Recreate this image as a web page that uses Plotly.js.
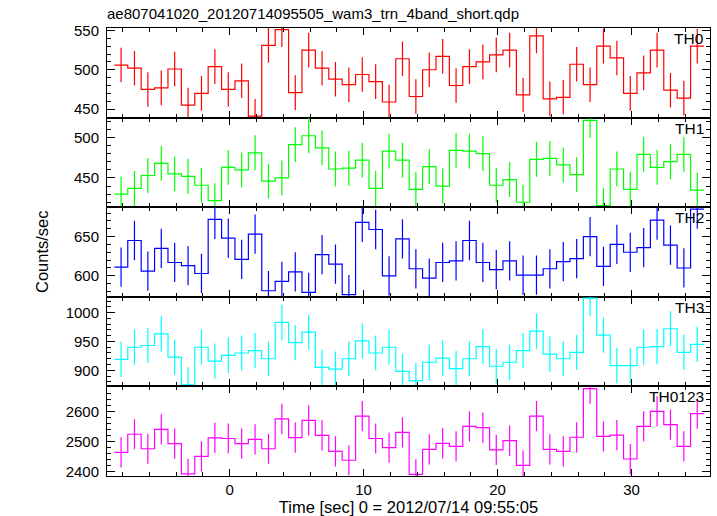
<!DOCTYPE html>
<html>
<head>
<meta charset="utf-8">
<script src="https://cdn.plot.ly/plotly-3.0.1.min.js"></script>
<style>html,body{margin:0;padding:0;background:#fff;}#chart{width:717px;height:516px;}</style>
</head>
<body>
<div id="chart"></div>
<script>
// bin centres [sec], 1 s bins
const timeSec = [-8.1,-7.1,-6.1,-5.1,-4.1,-3.1,-2.1,-1.1,-0.1,0.9,1.9,2.9,3.9,4.9,5.9,6.9,7.9,8.9,9.9,10.9,11.9,12.9,
  13.9,14.9,15.9,16.9,17.9,18.9,19.9,20.9,21.9,22.9,23.9,24.9,25.9,26.9,27.9,28.9,29.9,30.9,31.9,32.9,33.9,34.9];
const binWidth = 1;

const th0 = [506,502,475,477,501,455,470,504,475,486,441,531,551,471,525,502,488,481,494,485,459,514,
  466,500,517,480,504,510,519,525,468,543,463,465,507,481,530,515,470,496,525,474,464,530];
const th1 = [430,437,453,468,455,452,441,422,463,460,481,446,450,491,502,487,461,462,472,437,483,472,
  436,464,440,484,483,480,441,448,420,473,474,466,454,521,416,461,436,479,463,470,479,435];
const th2 = [611,645,606,635,617,613,603,672,648,621,653,581,593,605,579,627,615,576,668,659,600,647,
  609,597,617,619,645,617,608,619,601,601,609,618,622,650,612,640,630,636,671,639,610,685];
const th3 = [919,940,943,963,923,875,940,916,926,930,934,920,983,948,966,905,902,920,951,930,940,898,
  882,914,921,903,920,941,907,914,934,968,928,920,931,1025,961,908,908,940,941,972,931,945];
const th0123 = [2464,2524,2476,2540,2493,2393,2451,2512,2510,2493,2507,2476,2575,2513,2570,2520,2467,2438,2584,2510,2480,2530,
  2391,2474,2494,2484,2550,2546,2472,2503,2421,2584,2474,2467,2514,2675,2517,2521,2442,2550,2600,2556,2484,2592];

const panelNames = ['TH0','TH1','TH2','TH3','TH0123'];
const panelSeries = [th0, th1, th2, th3, th0123];
const panelErr = [22, 21.5, 25, 30.5, 50];
const panelColors = ['#ff0000','#00ff00','#0000ff','#00ffff','#ff00ff'];
const yRanges = [[439.2,553.1],[413.9,524.4],[573.3,687.4],[872.1,1027.4],[2385.8,2682.4]];
const yMajor = [50,50,50,50,100];
const yMinor = [10,10,10,10,20];
const xRange = [-9.15, 35.85];
const xTickVals = [0,10,20,30];
const xTickText = ['0','10','20','30'];

const titleText = 'ae807041020_20120714095505_wam3_trn_4band_short.qdp';
const xTitle = 'Time [sec] 0 = 2012/07/14 09:55:05';
const yTitle = 'Counts/sec';

const FONT = 'Liberation Sans, Arial, Helvetica, sans-serif';
const traces = [];
const layout = {
  width: 717, height: 516,
  margin: {l: 107, r: 7, t: 28, b: 40},
  paper_bgcolor: '#fff', plot_bgcolor: '#fff',
  showlegend: false, hovermode: false,
  font: {family: FONT, size: 15, color: '#000'},
  title: {text: titleText, x: 0, xref: 'paper', xanchor: 'left', y: 1 - 14/516, yref: 'container', yanchor: 'middle',
          font: {family: FONT, size: 15, color: '#000'}},
  annotations: []
};

const n = panelSeries.length;
for (let p = 0; p < n; p++) {
  const sfx = p === 0 ? '' : String(p + 1);
  const vals = panelSeries[p];
  // step outline from bin edges
  const sx = timeSec.map(c => c - binWidth / 2);
  sx.push(timeSec[timeSec.length - 1] + binWidth / 2);
  const sy = vals.slice();
  sy.push(vals[vals.length - 1]);
  traces.push({
    type: 'scatter', mode: 'lines', x: sx, y: sy,
    xaxis: 'x' + sfx, yaxis: 'y' + sfx,
    line: {shape: 'hv', color: panelColors[p], width: 1.2}
  });
  traces.push({
    type: 'scatter', mode: 'markers', x: timeSec, y: vals,
    xaxis: 'x' + sfx, yaxis: 'y' + sfx,
    marker: {size: 1, color: panelColors[p], opacity: 0},
    error_y: {type: 'constant', value: panelErr[p], width: 0, thickness: 1.2, color: panelColors[p]}
  });
  const top = 1 - p / n, bot = 1 - (p + 1) / n;
  const isBottom = p === n - 1;
  layout['xaxis' + sfx] = {
    domain: [0, 1], anchor: 'y' + sfx, range: xRange,
    showgrid: false, zeroline: false,
    showline: true, linecolor: '#000', linewidth: 1, mirror: 'allticks',
    ticks: 'inside', ticklen: 7, tickwidth: 1, tickcolor: '#000',
    tickmode: 'array', tickvals: xTickVals, ticktext: xTickText,
    showticklabels: isBottom,
    minor: {dtick: 2, tick0: 0, ticks: 'inside', ticklen: 4, tickwidth: 1, tickcolor: '#000', showgrid: false},
    tickfont: {family: FONT, size: 15, color: '#000'},
    matches: p === 0 ? undefined : 'x'
  };
  if (isBottom) {
    layout['xaxis' + sfx].title = {text: xTitle, font: {family: FONT, size: 16.5, color: '#000'}, standoff: 2};
  }
  layout['yaxis' + sfx] = {
    domain: [bot, top], anchor: 'x' + sfx, range: yRanges[p],
    showgrid: false, zeroline: false,
    showline: true, linecolor: '#000', linewidth: 1, mirror: 'allticks',
    ticks: 'inside', ticklen: 8, tickwidth: 1, tickcolor: '#000',
    dtick: yMajor[p], tick0: 0,
    minor: {dtick: yMinor[p], tick0: 0, ticks: 'inside', ticklen: 4, tickwidth: 1, tickcolor: '#000', showgrid: false},
    tickfont: {family: FONT, size: 15, color: '#000'},
    ticklabelstandoff: 4
  };
  layout.annotations.push({
    text: panelNames[p], showarrow: false,
    xref: 'paper', x: 1, xanchor: 'right', xshift: -4,
    yref: 'y' + sfx + ' domain', y: 1, yanchor: 'top', yshift: 0,
    font: {family: FONT, size: 15.5, color: '#000'}
  });
}
layout.annotations.push({
  text: yTitle, showarrow: false, textangle: -90,
  xref: 'paper', x: (42 - 107) / 603, xanchor: 'center',
  yref: 'paper', y: 0.5, yanchor: 'middle',
  font: {family: FONT, size: 16.5, color: '#000'}
});

Plotly.newPlot('chart', traces, layout, {staticPlot: true, displayModeBar: false});
</script>
</body>
</html>
